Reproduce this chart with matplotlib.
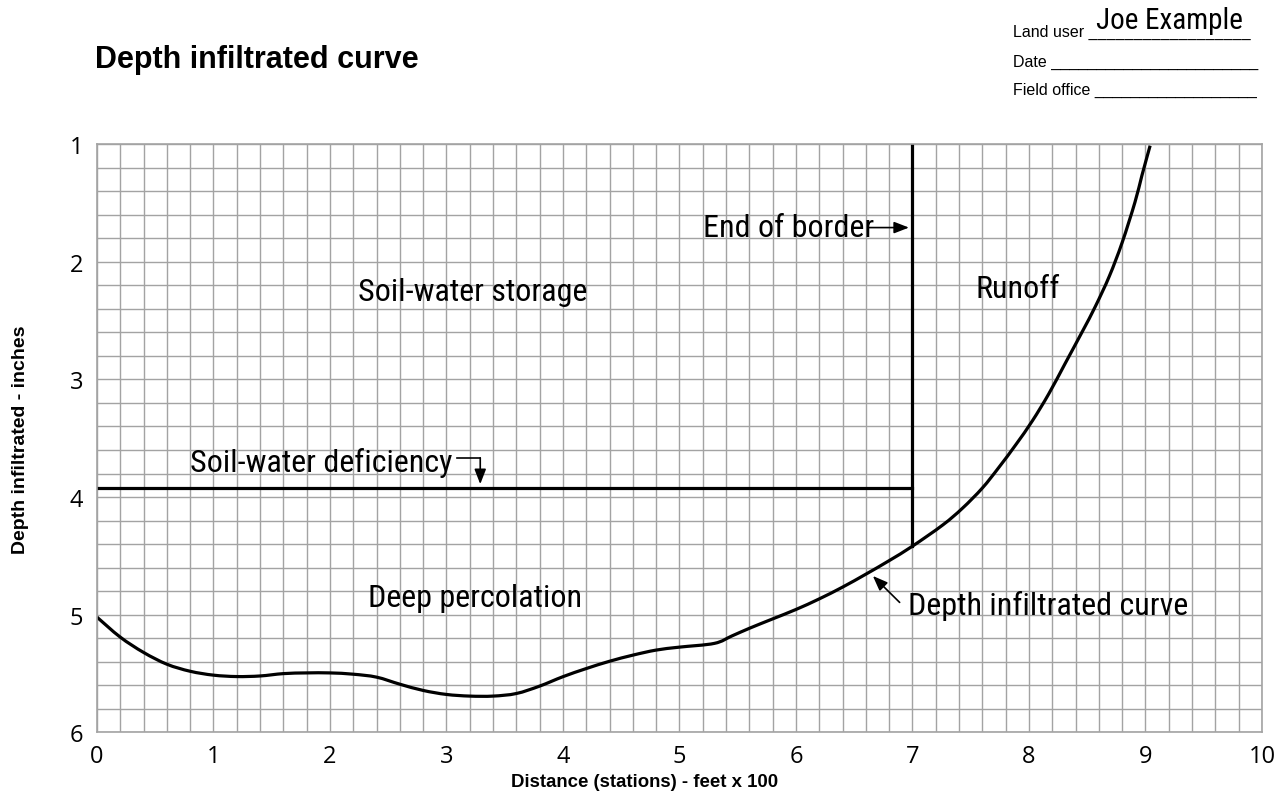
import matplotlib
matplotlib.use("Agg")
import matplotlib.pyplot as plt
from matplotlib.path import Path
from matplotlib.patches import PathPatch
import numpy as np

# depth infiltrated along the border (stations x 100 ft, inches)
station = [0.0, 0.2, 0.4, 0.6, 0.8, 1.0, 1.2, 1.4, 1.6, 1.8, 2.0, 2.2, 2.4,
           2.6, 2.8, 3.0, 3.2, 3.4, 3.6, 3.8, 4.0, 4.2, 4.4, 4.6, 4.8, 5.0,
           5.3, 5.45, 5.6, 5.8, 6.0, 6.2, 6.4, 6.6, 6.8, 7.0, 7.26, 7.43,
           7.6, 7.74, 7.89, 8.03, 8.17, 8.31, 8.46, 8.57, 8.69, 8.8, 8.91,
           8.97, 9.04]
depth = [5.02, 5.19, 5.32, 5.42, 5.48, 5.513, 5.525, 5.52, 5.50, 5.494, 5.494,
         5.505, 5.53, 5.59, 5.643, 5.677, 5.691, 5.691, 5.669, 5.606, 5.526,
         5.457, 5.395, 5.343, 5.30, 5.275, 5.243, 5.18, 5.115, 5.035, 4.955,
         4.865, 4.765, 4.655, 4.54, 4.417, 4.237, 4.094, 3.923, 3.75, 3.551,
         3.351, 3.123, 2.866, 2.59, 2.38, 2.123, 1.837, 1.494, 1.266, 1.014]

end_of_border = 7.0
depth_at_end = 4.417
deficiency = 3.92

x_ticks = list(range(0, 11))
y_ticks = [1, 2, 3, 4, 5, 6]

narrow = ["Roboto Condensed", "DejaVu Sans"]
plain = ["Liberation Sans", "DejaVu Sans"]
tickfont = ["Open Sans", "DejaVu Sans"]


def smooth_path(xs, ys):
    # Catmull-Rom through the points, written as cubic Bezier segments
    p = np.column_stack([xs, ys])
    verts = [p[0]]
    codes = [Path.MOVETO]
    for i in range(len(p) - 1):
        p0 = p[i - 1] if i > 0 else p[i]
        p3 = p[i + 2] if i + 2 < len(p) else p[i + 1]
        c1 = p[i] + (p[i + 1] - p0) / 6
        c2 = p[i + 1] - (p3 - p[i]) / 6
        verts += [c1, c2, p[i + 1]]
        codes += [Path.CURVE4] * 3
    return Path(verts, codes)


fig = plt.figure(figsize=(12.86, 8.03), dpi=100)
ax = fig.add_axes([0.0754, 0.0866, 0.9059, 0.7328])

ax.set_xlim(0, 10)
ax.set_ylim(6, 1)
ax.set_xticks(x_ticks)
ax.set_yticks(y_ticks)
ax.set_xticks(np.arange(0, 10.01, 0.2), minor=True)
ax.set_yticks(np.arange(1, 6.01, 0.2), minor=True)
ax.grid(which="both", color="#a3a3a3", linewidth=1.0)
ax.set_axisbelow(True)
ax.tick_params(which="both", length=0)
ax.tick_params(axis="x", pad=8)
ax.tick_params(axis="y", pad=10)
for lab in ax.get_xticklabels() + ax.get_yticklabels():
    lab.set_fontfamily(tickfont)
    lab.set_fontsize(17)
for s in ax.spines.values():
    s.set_color("#a3a3a3")
    s.set_linewidth(1.2)

ax.add_patch(PathPatch(smooth_path(station, depth), facecolor="none",
                       edgecolor="black", lw=2.3))
ax.plot([end_of_border, end_of_border], [1, depth_at_end], color="black", lw=2.3)
ax.plot([0, end_of_border], [deficiency, deficiency], color="black", lw=2.3)

fig.text(645 / 1286, 1 - 783 / 803, "Distance (stations) - feet x 100",
         fontfamily=plain, fontweight="bold", fontsize=13.4, ha="center", va="center")
fig.text(21 / 1286, 1 - 440 / 803, "Depth infiltrated - inches", rotation=90,
         fontfamily=plain, fontweight="bold", fontsize=14, ha="center", va="center")

tsz = 23
ax.text(2.24, 2.25, "Soil-water storage", fontfamily=narrow, fontsize=tsz, va="center")
ax.text(7.54, 2.23, "Runoff", fontfamily=narrow, fontsize=tsz, va="center")
ax.text(2.33, 4.85, "Deep percolation", fontfamily=narrow, fontsize=tsz, va="center")
ax.text(0.80, 3.70, "Soil-water deficiency", fontfamily=narrow, fontsize=tsz, va="center")
ax.text(5.2, 1.71, "End of border", fontfamily=narrow, fontsize=tsz, va="center")
ax.text(6.96, 4.915, "Depth infiltrated curve", fontfamily=narrow, fontsize=tsz, va="center")

arrow = dict(arrowstyle="-|>,head_length=0.9,head_width=0.35", color="black", lw=1.2,
             shrinkA=0, shrinkB=0)
ax.annotate("", xy=(6.97, 1.71), xytext=(6.62, 1.71), arrowprops=arrow)
ax.annotate("", xy=(6.66, 4.67), xytext=(6.89, 4.895), arrowprops=arrow)
ax.plot([3.09, 3.29], [3.667, 3.667], color="black", lw=1.2)
ax.annotate("", xy=(3.29, 3.89), xytext=(3.29, 3.667), arrowprops=arrow)

fig.text(95 / 1286, 1 - 60 / 803, "Depth infiltrated curve", fontfamily=plain,
         fontweight="bold", fontsize=22, va="center")

hx = 1013 / 1286
fig.text(hx, 1 - 32 / 803, "Land user " + "_" * 18, fontfamily=plain,
         fontsize=11.5, va="center")
fig.text(1096 / 1286, 1 - 21 / 803, "Joe Example", fontfamily=narrow,
         fontsize=21, va="center")
fig.text(hx, 1 - 62 / 803, "Date " + "_" * 23, fontfamily=plain,
         fontsize=11.5, va="center")
fig.text(hx, 1 - 90 / 803, "Field office " + "_" * 18, fontfamily=plain,
         fontsize=11.5, va="center")

fig.savefig("out.png", dpi=100)
